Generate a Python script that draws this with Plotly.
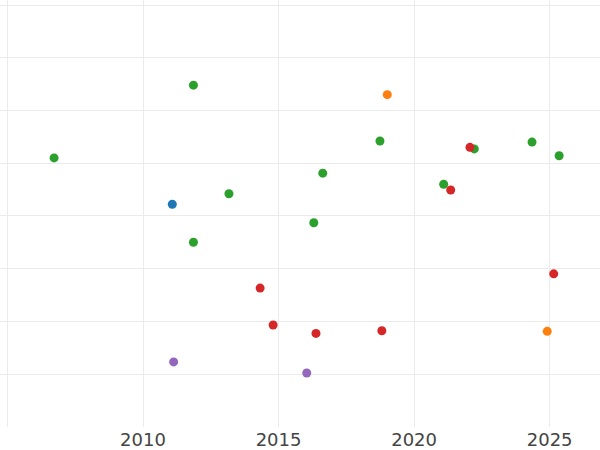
import plotly.graph_objects as go

# Series values (x = year, y = value in hidden-axis units)
blue_x = [2011.08]
blue_y = [3.22]

orange_x = [2019.01, 2024.91]
orange_y = [5.30, 0.81]

green_x = [2006.72, 2011.86, 2011.86, 2013.17, 2016.30, 2016.63, 2018.74,
           2021.09, 2022.22, 2024.35, 2025.35]
green_y = [4.10, 5.48, 2.50, 3.42, 2.87, 3.81, 4.42,
           3.60, 4.27, 4.40, 4.14]

red_x = [2014.32, 2014.80, 2016.38, 2018.81, 2021.35, 2022.06, 2025.15]
red_y = [1.63, 0.93, 0.77, 0.82, 3.49, 4.30, 1.90]

purple_x = [2011.13, 2016.04]
purple_y = [0.23, 0.02]

x_ticks = [2005, 2010, 2015, 2020, 2025]
x_tick_labels = ["", "2010", "2015", "2020", "2025"]

series = [
    ("blue", blue_x, blue_y, "#1f77b4"),
    ("orange", orange_x, orange_y, "#ff7f0e"),
    ("green", green_x, green_y, "#2ca02c"),
    ("red", red_x, red_y, "#d62728"),
    ("purple", purple_x, purple_y, "#9467bd"),
]

fig = go.Figure()
for name, xs, ys, color in series:
    fig.add_trace(go.Scatter(
        x=xs, y=ys, mode="markers", name=name,
        marker=dict(size=9, color=color, line=dict(width=0)),
    ))

fig.update_layout(
    width=600, height=450,
    margin=dict(l=0, r=0, t=0, b=23),
    paper_bgcolor="white", plot_bgcolor="white",
    showlegend=False,
    font=dict(family="DejaVu Sans", size=18, color="#444444"),
)
fig.update_xaxes(
    range=[2004.725, 2026.857],
    tickvals=x_ticks, ticktext=x_tick_labels,
    showgrid=True, gridcolor="#ebebeb", gridwidth=1,
    zeroline=False, showline=False, ticks="",
)
fig.update_yaxes(
    range=[-1.005, 7.095],
    dtick=1, tick0=0,
    showticklabels=False,
    showgrid=True, gridcolor="#ebebeb", gridwidth=1,
    zeroline=False, showline=False, ticks="",
)

fig.write_html(
    "out.html",
    config={"displayModeBar": False},
    post_script="document.body.style.margin='0px';document.body.style.overflow='hidden';",
)
